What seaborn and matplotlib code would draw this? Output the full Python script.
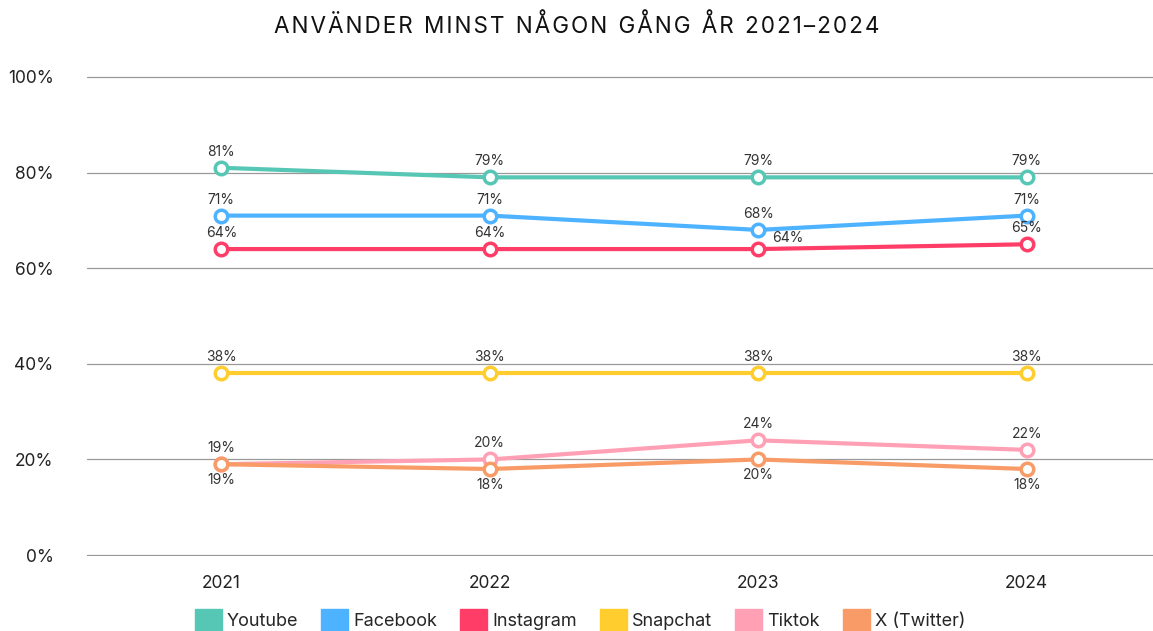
import matplotlib
matplotlib.use("Agg")
import matplotlib.pyplot as plt
from matplotlib.patches import Patch
import pandas as pd
import seaborn as sns

years = ["2021", "2022", "2023", "2024"]
series = ["Youtube", "Facebook", "Instagram", "Snapchat", "Tiktok", "X (Twitter)"]
youtube = [81, 79, 79, 79]
facebook = [71, 71, 68, 71]
instagram = [64, 64, 64, 65]
snapchat = [38, 38, 38, 38]
tiktok = [19, 20, 24, 22]
twitter = [19, 18, 20, 18]
colors = ["#57C7B5", "#4DB2FF", "#FF3D67", "#FFCD2E", "#FFA0B4", "#F89B66"]

values = [youtube, facebook, instagram, snapchat, tiktok, twitter]
df = pd.DataFrame(
    [(name, i, v) for name, vals in zip(series, values) for i, v in enumerate(vals)],
    columns=["series", "pos", "value"],
)

sns.set_style("white")
plt.rcParams["font.family"] = ["Inter", "DejaVu Sans"]

fig = plt.figure(figsize=(11.53, 6.31), dpi=100)
# small y margin so the 0% and 100% gridlines are not clipped
ax = fig.add_axes([0.0755, 0.1188, 0.9245, 0.7608])

for name, color in zip(series, colors):
    sub = df[df["series"] == name]
    sns.lineplot(data=sub, x="pos", y="value", ax=ax, color=color,
                 linewidth=3, marker="o", markersize=9,
                 markerfacecolor="white", markeredgecolor=color,
                 markeredgewidth=2.5, legend=False, zorder=3)
    for _, row in sub.iterrows():
        dx, dy, va = 0, 9, "bottom"
        if name == "X (Twitter)":
            dy, va = -9, "top"
        if name == "Instagram" and row["pos"] == 2:
            dx, dy = 29, 4
        ax.annotate(f"{row['value']}%", (row["pos"], row["value"]),
                    xytext=(dx, dy), textcoords="offset pixels",
                    ha="center", va=va, fontsize=10, color="#333333")

ax.set_xlim(-0.5, 3.47)
ax.set_ylim(-0.2, 100.2)
ax.set_xticks(range(len(years)))
ax.set_xticklabels(years)
ax.set_yticks([0, 20, 40, 60, 80, 100])
ax.set_yticklabels([f"{t}%" for t in [0, 20, 40, 60, 80, 100]])
ax.tick_params(axis="both", length=0, labelsize=12.5, colors="#222222")
ax.tick_params(axis="x", pad=14)
ax.tick_params(axis="y", pad=24)
ax.grid(axis="y", color="#999999", linewidth=0.9)
ax.set_axisbelow(True)
for s in ax.spines.values():
    s.set_visible(False)
ax.set_xlabel("")
ax.set_ylabel("")

title = "ANVÄNDER MINST NÅGON GÅNG ÅR 2021–2024"
fig.suptitle("\u200a".join(title).replace("\u200a \u200a", "\u2002"),
             y=0.978, fontsize=16.2, color="#111111")

handles = [Patch(facecolor=c, edgecolor=c, label=n) for n, c in zip(series, colors)]
fig.legend(handles=handles, loc="lower center", bbox_to_anchor=(0.503, -0.026),
           ncol=6, frameon=False, fontsize=13, handlelength=1.5,
           handleheight=1.5, handletextpad=0.3, columnspacing=1.25)

fig.savefig("out.png", dpi=100)
